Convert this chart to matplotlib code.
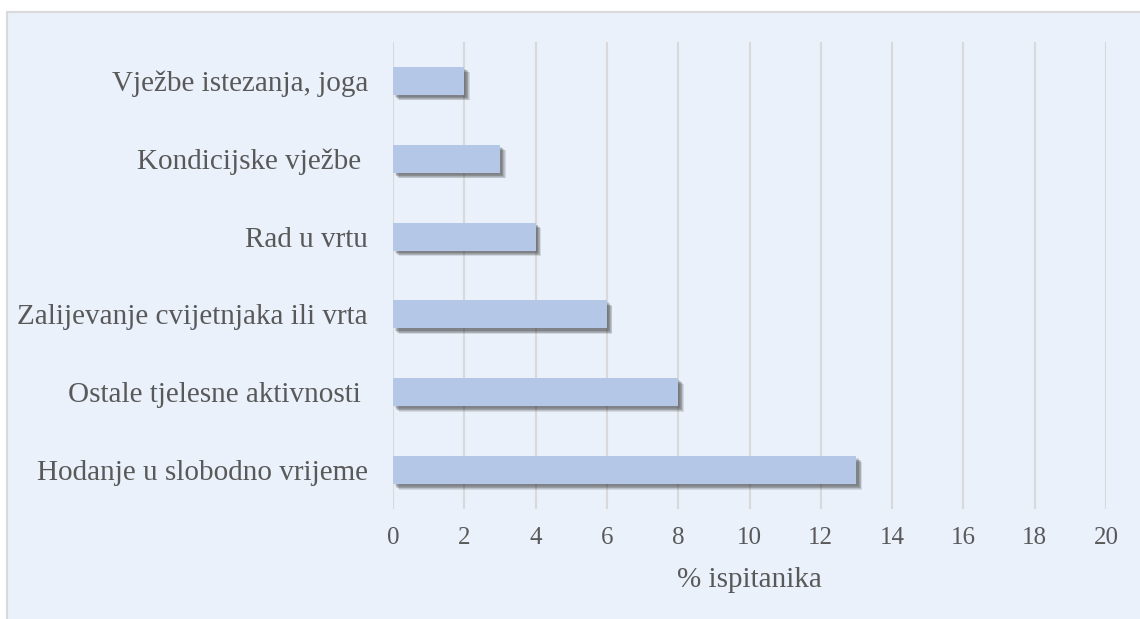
import matplotlib.pyplot as plt
from matplotlib import patheffects
from matplotlib.patches import Rectangle

categories = [
    "Hodanje u slobodno vrijeme",
    "Ostale tjelesne aktivnosti ",
    "Zalijevanje cvijetnjaka ili vrta",
    "Rad u vrtu",
    "Kondicijske vježbe ",
    "Vježbe istezanja, joga",
]
values = [13, 8, 6, 4, 3, 2]
x_ticks = list(range(0, 21, 2))

plt.rcParams["font.family"] = ["Liberation Serif", "DejaVu Serif"]
text_color = "#595959"

fig = plt.figure(figsize=(11.4, 6.19), dpi=100)
fig.patch.set_facecolor("white")
fig.patches.append(Rectangle((7 / 1140, -0.01), 1.0, 1 - 12 / 619 + 0.01,
                             transform=fig.transFigure, facecolor="#EAF1FB",
                             edgecolor="#D9D9D9", linewidth=1.5, zorder=-1))

ax = fig.add_axes([393 / 1140, 110 / 619, 713 / 1140, 467 / 619])
ax.set_zorder(1)
ax.set_facecolor("none")

bars = ax.barh(range(len(categories)), values, height=0.36, color="#B4C7E7", zorder=3)
# soft shadow: a few offset copies stacked
shadow = [
    patheffects.SimplePatchShadow(offset=(d, -d), shadow_rgbFace="#303030", alpha=0.13)
    for d in (4.0, 3.5, 3.0, 2.5, 2.0, 1.5)
]
for b in bars:
    b.set_path_effects(shadow + [patheffects.Normal()])

ax.set_xlim(0, 20)
ax.set_ylim(-0.5, len(categories) - 0.5)
ax.set_xticks(x_ticks)
ax.set_yticks(range(len(categories)))
ax.set_yticklabels(categories)
ax.grid(axis="x", color="#D9D9D9", linewidth=1.5, zorder=0)
for s in ax.spines.values():
    s.set_visible(False)
ax.tick_params(axis="both", length=0, colors=text_color)
ax.tick_params(axis="y", pad=18, labelsize=21)
ax.tick_params(axis="x", pad=13, labelsize=18)
ax.set_xlabel("% ispitanika", color=text_color, fontsize=21, labelpad=13)

fig.savefig("out.png", dpi=100)
